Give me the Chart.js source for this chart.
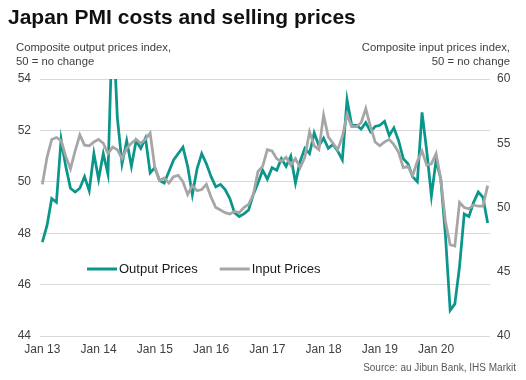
<!DOCTYPE html>
<html>
<head>
<meta charset="utf-8">
<script src="https://cdn.jsdelivr.net/npm/chart.js@4/dist/chart.umd.min.js"></script>
<style>
  html, body { margin: 0; padding: 0; background: #fff; }
  #wrap { position: relative; width: 526px; height: 380px; font-family: "Liberation Sans", Arial, sans-serif; }
  #c { position: absolute; left: 0; top: 0; }
  .t { position: absolute; white-space: nowrap; }
  #title { left: 8px; top: 5px; font-size: 21px; font-weight: bold; color: #111; }
  #ylt { left: 16px; top: 40px; font-size: 11.3px; line-height: 14px; color: #404040; }
  #yrt { right: 16px; top: 40px; font-size: 11.3px; line-height: 14px; color: #404040; text-align: right; }
  #src { right: 10px; top: 362px; font-size: 10px; color: #595959; }
</style>
</head>
<body>
<div id="wrap">
  <canvas id="c" width="526" height="380"></canvas>
  <div class="t" id="title">Japan PMI costs and selling prices</div>
  <div class="t" id="ylt">Composite output prices index,<br>50 = no change</div>
  <div class="t" id="yrt">Composite input prices index,<br>50 = no change</div>
  <div class="t" id="src">Source: au Jibun Bank, IHS Markit</div>
</div>
<script>
// ---- data ----
const years = ['13', '14', '15', '16', '17', '18', '19', '20'];
const monthNames = ['Jan','Feb','Mar','Apr','May','Jun','Jul','Aug','Sep','Oct','Nov','Dec'];
const tickLabels = ['Jan 13','Jan 14','Jan 15','Jan 16','Jan 17','Jan 18','Jan 19','Jan 20'];
const leftTicks = [44, 46, 48, 50, 52, 54];
const rightTicks = [40, 45, 50, 55, 60];
const seriesNames = ['Output Prices', 'Input Prices'];

// Composite output prices index (left axis), Jan 2013 - Dec 2020
const outputPrices = [
  47.65, 48.3, 49.35, 49.2, 51.65, 50.6, 49.75, 49.6, 49.75, 50.2, 49.65, 51.1,
  50.1, 51.1, 50.3, 56.5, 52.5, 50.7, 51.6, 50.6, 51.6, 51.3, 51.7, 50.35,
  50.55, 50.05, 49.95, 50.4, 50.85, 51.1, 51.35, 50.6, 49.5, 50.5, 51.1, 50.7,
  50.2, 49.8, 49.9, 49.7, 49.35, 48.8, 48.65, 48.75, 48.9, 49.5, 49.95, 50.45,
  50.1, 50.55, 50.45, 50.9, 50.6, 51.0, 49.95, 50.8, 51.3, 51.1, 51.9, 51.4,
  51.7, 51.3, 51.45, 51.2, 50.85, 53.2, 52.2, 52.2, 52.05, 52.3, 51.95, 52.15,
  52.2, 52.35, 51.8, 52.1, 51.6, 50.9, 50.7, 50.2, 50.0, 52.7, 51.2, 49.45,
  50.85, 50.1, 47.9, 45.0, 45.25, 46.7, 48.75, 48.65, 49.2, 49.6, 49.4, 48.4
];
// Composite input prices index (right axis), Jan 2013 - Dec 2020
const inputPrices = [
  51.8, 53.9, 55.3, 55.45, 55.2, 54.0, 53.0, 54.4, 55.65, 54.85, 54.8, 55.1,
  55.3, 55.0, 54.2, 54.7, 54.5, 53.8, 54.6, 55.0, 55.3, 55.0, 55.3, 55.8,
  53.1, 52.1, 52.3, 51.9, 52.4, 52.5, 52.0, 51.0, 51.7, 51.3, 51.4, 51.8,
  50.8, 50.0, 49.8, 49.6, 49.5, 49.7, 49.6, 50.0, 50.25, 51.0, 52.8, 53.2,
  54.5, 54.4, 53.8, 53.6, 53.9, 53.3, 53.8, 53.1, 53.9, 55.9, 54.8, 54.5,
  57.2, 55.5, 55.0, 54.5, 55.5, 57.2, 56.3, 56.3, 56.6, 57.7, 56.3, 55.1,
  54.8, 55.1, 55.3, 54.9, 54.3, 53.1, 53.2, 52.5, 53.6, 54.4, 53.3, 53.4,
  54.2, 52.2, 48.9, 47.1, 47.0, 50.4, 50.0, 49.9, 50.2, 50.1, 50.1, 51.7
];

// ---- build categories ----
const categories = [];
years.forEach(y => monthNames.forEach(m => categories.push(m + ' ' + y)));

const TEAL = '#0a968a';
const GREY = '#a6a6a6';
const FONT = '"Liberation Sans", Arial, sans-serif';

const legendPlugin = {
  id: 'inlineLegend',
  afterDatasetsDraw(chart) {
    const ctx = chart.ctx;
    const a = chart.chartArea;
    const y = a.top + 190;
    let x = a.left + 47;
    ctx.save();
    ctx.font = '13px ' + FONT;
    ctx.textBaseline = 'middle';
    ctx.textAlign = 'left';
    const items = [
      { text: seriesNames[0], color: TEAL },
      { text: seriesNames[1], color: GREY }
    ];
    items.forEach(it => {
      ctx.strokeStyle = it.color;
      ctx.lineWidth = 3;
      ctx.beginPath();
      ctx.moveTo(x, y);
      ctx.lineTo(x + 30, y);
      ctx.stroke();
      ctx.fillStyle = '#1a1a1a';
      ctx.fillText(it.text, x + 32, y + 0.5);
      x += 32 + ctx.measureText(it.text).width + 22;
    });
    ctx.restore();
  }
};

new Chart(document.getElementById('c'), {
  type: 'line',
  data: {
    labels: categories,
    datasets: [
      {
        label: seriesNames[0],
        data: outputPrices,
        yAxisID: 'y',
        borderColor: TEAL,
        backgroundColor: TEAL,
        borderWidth: 2.75,
        pointRadius: 0,
        tension: 0,
        order: 2
      },
      {
        label: seriesNames[1],
        data: inputPrices,
        yAxisID: 'y2',
        borderColor: GREY,
        backgroundColor: GREY,
        borderWidth: 2.75,
        pointRadius: 0,
        tension: 0,
        order: 1
      }
    ]
  },
  options: {
    responsive: false,
    animation: false,
    devicePixelRatio: 1,
    layout: { padding: { top: 79, left: 0, right: 0, bottom: 0 } },
    plugins: {
      legend: { display: false },
      tooltip: { enabled: false },
      title: { display: false }
    },
    scales: {
      x: {
        type: 'category',
        offset: true,
        grid: { display: false, drawTicks: false, tickLength: 0 },
        border: { display: false },
        ticks: {
          autoSkip: false,
          maxRotation: 0,
          minRotation: 0,
          padding: 6,
          color: '#404040',
          font: { family: FONT, size: 12 },
          callback: function (v, i) {
            return i % 12 === 0 ? tickLabels[i / 12] : null;
          }
        },
        afterFit: s => { s.height = 44; }
      },
      y: {
        position: 'left',
        min: 44,
        max: 54,
        afterBuildTicks: s => { s.ticks = leftTicks.map(v => ({ value: v })); },
        grid: { color: '#d9d9d9', lineWidth: 1, drawTicks: false },
        border: { display: false },
        ticks: {
          padding: 9,
          color: '#404040',
          font: { family: FONT, size: 12 }
        },
        afterFit: s => { s.width = 40; }
      },
      y2: {
        position: 'right',
        min: 40,
        max: 60,
        afterBuildTicks: s => { s.ticks = rightTicks.map(v => ({ value: v })); },
        grid: { display: false, drawTicks: false },
        border: { display: false },
        ticks: {
          padding: 7,
          color: '#404040',
          font: { family: FONT, size: 12 }
        },
        afterFit: s => { s.width = 36; }
      }
    }
  },
  plugins: [legendPlugin]
});
</script>
</body>
</html>
